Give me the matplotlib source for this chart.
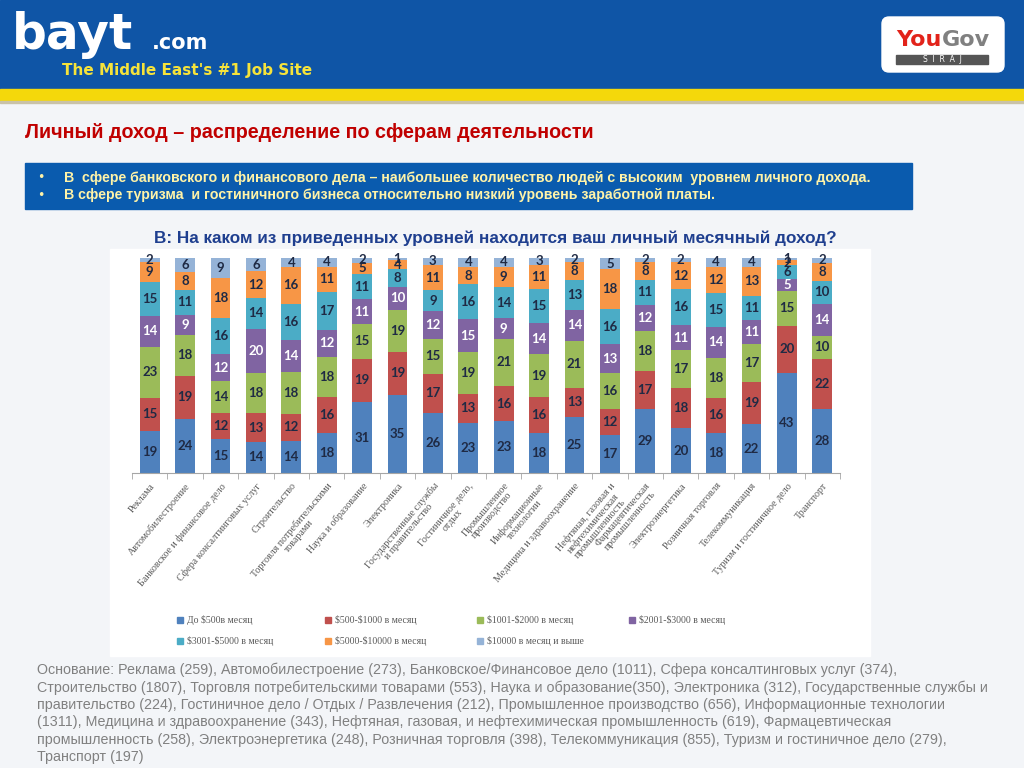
import matplotlib.pyplot as plt
from matplotlib.patches import Rectangle, FancyBboxPatch
import numpy as np

plt.rcParams['text.parse_math'] = False

# категории (подписи оси X)
categories = [
    "Реклама", "Автомобилестроение", "Банковское и финансовое дело",
    "Сфера консалтинговых услуг", "Строительство",
    "Торговля потребительскими\nтоварами", "Наука и образование", "Электроника",
    "Государственные службы\nи правительство", "Гостиничное дело,\nотдых",
    "Промышленное\nпроизводство", "Информационные\nтехнологии",
    "Медицина и здравоохранение", "Нефтяная, газовая и\nнефтехимическая\nпромышленность",
    "Фармацевтическая\nпромышленность", "Электроэнергетика", "Розничная торговля",
    "Телекоммуникация", "Туризм и гостиничное дело", "Транспорт",
]

series_names = [
    "До $500в месяц", "$500-$1000 в месяц", "$1001-$2000 в месяц",
    "$2001-$3000 в месяц", "$3001-$5000 в месяц", "$5000-$10000 в месяц",
    "$10000 в месяц и выше",
]

upto_500 = [19, 24, 15, 14, 14, 18, 31, 35, 26, 23, 23, 18, 25, 17, 29, 20, 18, 22, 43, 28]
s500_1000 = [15, 19, 12, 13, 12, 16, 19, 19, 17, 13, 16, 16, 13, 12, 17, 18, 16, 19, 20, 22]
s1001_2000 = [23, 18, 14, 18, 18, 18, 15, 19, 15, 19, 21, 19, 21, 16, 18, 17, 18, 17, 15, 10]
s2001_3000 = [14, 9, 12, 20, 14, 12, 11, 10, 12, 15, 9, 14, 14, 13, 12, 11, 14, 11, 5, 14]
s3001_5000 = [15, 11, 16, 14, 16, 17, 11, 8, 9, 16, 14, 15, 13, 16, 11, 16, 15, 11, 6, 10]
s5000_10000 = [9, 8, 18, 12, 16, 11, 5, 4, 11, 8, 9, 11, 8, 18, 8, 12, 12, 13, 2, 8]
s10000_plus = [2, 6, 9, 6, 4, 4, 2, 1, 3, 4, 4, 3, 2, 5, 2, 2, 4, 4, 1, 2]

series = [upto_500, s500_1000, s1001_2000, s2001_3000, s3001_5000, s5000_10000, s10000_plus]
colors = ['#4F81BD', '#C0504D', '#9BBB59', '#8064A2', '#4BACC6', '#F79646', '#95B3D7']
label_colors = ['#1F2A44', '#1F2A44', '#1F2A44', 'white', '#1F2A44', '#1F2A44', '#1F2A44']

W, H = 1024, 768
fig = plt.figure(figsize=(10.24, 7.68), dpi=100)
fig.patch.set_facecolor('#F3F5F8')

# фон слайда в пиксельных координатах
bg = fig.add_axes([0, 0, 1, 1])
bg.set_xlim(0, W)
bg.set_ylim(H, 0)
bg.axis('off')

# шапка
bg.add_patch(Rectangle((0, 0), W, 89, color='#0F55A6', zorder=1))
bg.add_patch(Rectangle((0, 89), W, 12, color='#F4D80B', zorder=1))
bg.add_patch(Rectangle((0, 101), W, 2, color='#C9C2A8', zorder=1))
bg.text(12, 35, "bayt", color='white', fontsize=35, fontweight='bold', va='center', ha='left', zorder=3)
bg.text(152, 43, ".com", color='white', fontsize=15, fontweight='bold', va='center', ha='left', zorder=3)
bg.text(62, 70, "The Middle East's #1 Job Site", color='#F6E33A', fontsize=11,
        fontweight='bold', va='center', ha='left', zorder=3)
bg.add_patch(FancyBboxPatch((882, 17), 122, 55, boxstyle='round,pad=0,rounding_size=7',
                            color='white', zorder=2))
bg.text(942, 40, "You", color='#E2231A', fontsize=16, fontweight='bold', ha='right', va='center', zorder=3)
bg.text(942, 40, "Gov", color='#808080', fontsize=16, fontweight='bold', ha='left', va='center', zorder=3)
bg.add_patch(Rectangle((896, 55), 92, 9, color='#555555', zorder=3))
bg.text(942, 59.5, "S  I  R  A  J", color='white', fontsize=5.5, ha='center', va='center', zorder=4)

# заголовок
bg.text(25, 133, "Личный доход – распределение по сферам деятельности", color='#C00000',
        fontsize=14.2, fontweight='bold', family='Liberation Sans', va='center', ha='left')

# синяя плашка с выводами
bg.add_patch(Rectangle((25, 163), 887, 46, color='#0A5BAE', zorder=1))
bullets = [
    "В  сфере банковского и финансового дела – наибольшее количество людей с высоким  уровнем личного дохода.",
    "В сфере туризма  и гостиничного бизнеса относительно низкий уровень заработной платы.",
]
for k, line in enumerate(bullets):
    yy = 178 + k * 17
    bg.text(37, yy, "•", color='#FFF3A8', fontsize=9, va='center', zorder=2)
    bg.text(64, yy, line, color='#FFF3A8', fontsize=10.2, fontweight='bold',
            family='Liberation Sans', va='center', zorder=2)

bg.text(495, 238, "В: На каком из приведенных уровней находится ваш личный месячный доход?",
        color='#1F3F8F', fontsize=12.3, fontweight='bold', family='Liberation Sans',
        ha='center', va='center')

# белая подложка диаграммы
bg.add_patch(Rectangle((110, 249), 760, 407, color='white', zorder=1))

# сноска
footnote = [
    "Основание: Реклама (259), Автомобилестроение (273), Банковское/Финансовое дело (1011), Сфера консалтинговых услуг (374),",
    "Строительство (1807), Торговля потребительскими товарами (553), Наука и образование(350), Электроника (312), Государственные службы и",
    "правительство (224), Гостиничное дело / Отдых / Развлечения (212), Промышленное производство (656), Информационные технологии",
    "(1311), Медицина и здравоохранение (343), Нефтяная, газовая, и нефтехимическая промышленность (619), Фармацевтическая",
    "промышленность (258), Электроэнергетика (248), Розничная торговля (398), Телекоммуникация (855), Туризм и гостиничное дело (279),",
    "Транспорт (197)",
]
for k, line in enumerate(footnote):
    bg.text(37, 670 + k * 17.4, line, color='#808080', fontsize=10.3, family='Liberation Sans',
            va='center', ha='left')

# легенда
leg_pos = [(180, 620), (328, 620), (480, 620), (632, 620), (180, 641), (328, 641), (480, 641)]
for (lx, ly), name, c in zip(leg_pos, series_names, colors):
    bg.add_patch(Rectangle((lx - 3, ly - 3), 6, 6, color=c, zorder=2))
    bg.text(lx + 7, ly, name, color='#595959', fontsize=7, family='Liberation Serif',
            va='center', ha='left', zorder=2)

# диаграмма: 100% накопленные столбцы
ax = fig.add_axes([132 / W, 1 - 473 / H, (840 - 132) / W, (473 - 258) / H])
x = np.arange(len(categories))
totals = np.sum(np.array(series), axis=0)
bottom = np.zeros(len(categories))
for vals, c, lc in zip(series, colors, label_colors):
    vals = np.array(vals)
    share = vals / totals * 100
    ax.bar(x, share, bottom=bottom, width=0.56, color=c, zorder=2)
    for i in range(len(x)):
        ax.text(x[i], bottom[i] + share[i] / 2, str(vals[i]), ha='center', va='center',
                fontsize=9.5, fontweight='bold', color=lc, family='Lato', zorder=3)
    bottom += share

ax.set_xlim(-0.5, len(categories) - 0.5)
ax.set_ylim(0, 100)
ax.patch.set_alpha(0)
for s in ['left', 'right', 'top']:
    ax.spines[s].set_visible(False)
ax.spines['bottom'].set_color('#A6A6A6')
ax.set_yticks([])
ax.set_xticks(x)
ax.set_xticklabels(categories, rotation=50, ha='right', rotation_mode='anchor',
                   fontsize=7.2, family='Liberation Serif', color='#595959',
                   multialignment='center', linespacing=0.95)
ax.tick_params(axis='x', which='major', length=0, pad=6)
ax.set_xticks(np.arange(-0.5, len(categories), 1), minor=True)
ax.tick_params(axis='x', which='minor', length=4, color='#A6A6A6', direction='out')

plt.savefig('out.png', dpi=100, facecolor=fig.get_facecolor())
